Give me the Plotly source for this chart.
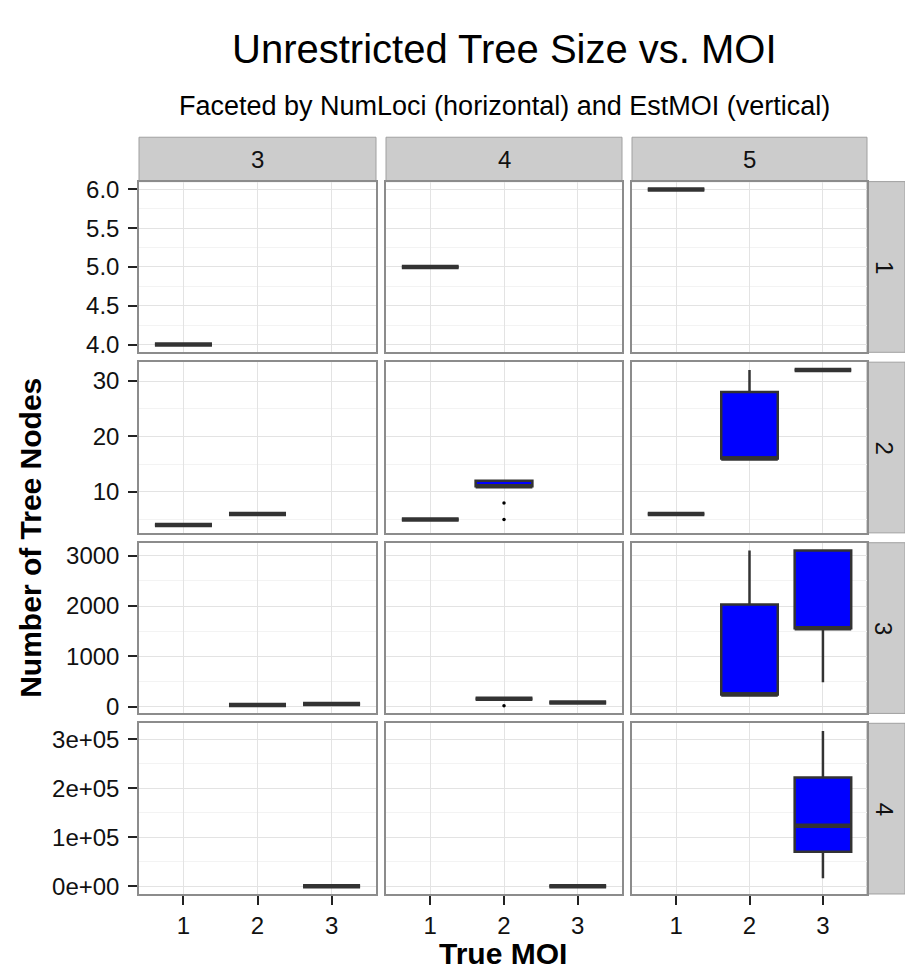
import plotly.graph_objects as go
from plotly.subplots import make_subplots

# ---------------- data ----------------
num_loci = [3, 4, 5]            # facet columns
est_moi = [1, 2, 3, 4]          # facet rows
true_moi = [1, 2, 3]            # x categories

# one entry per box
box_est  = [1, 1, 1, 2, 2, 2, 2, 2, 2, 2, 3, 3, 3, 3, 3, 3, 4, 4, 4]
box_loci = [3, 4, 5, 3, 3, 4, 4, 5, 5, 5, 3, 3, 4, 4, 5, 5, 3, 4, 5]
box_true = [1, 1, 1, 1, 2, 1, 2, 1, 2, 3, 2, 3, 2, 3, 2, 3, 3, 3, 3]
box_min  = [4, 5, 6, 4, 6, 5, 11, 6, 16, 32, 32, 52, 157, 84, 240, 485, 330, 350, 16700]
box_q1   = [4, 5, 6, 4, 6, 5, 11, 6, 16, 32, 32, 52, 157, 84, 240, 1560, 330, 350, 70600]
box_med  = [4, 5, 6, 4, 6, 5, 11, 6, 16, 32, 32, 52, 157, 84, 240, 1560, 330, 350, 123500]
box_q3   = [4, 5, 6, 4, 6, 5, 12, 6, 28, 32, 32, 52, 157, 84, 2030, 3105, 330, 350, 222000]
box_max  = [4, 5, 6, 4, 6, 5, 12, 6, 32, 32, 32, 52, 157, 84, 3105, 3105, 330, 350, 317000]

# outliers
out_est  = [2, 2, 3]
out_loci = [4, 4, 4]
out_true = [2, 2, 2]
out_val  = [8, 5, 20]

# y tick values / labels per row
row_ticks = {
    1: [4.0, 4.5, 5.0, 5.5, 6.0],
    2: [10, 20, 30],
    3: [0, 1000, 2000, 3000],
    4: [0, 100000, 200000, 300000],
}
row_ticktext = {
    1: ["4.0", "4.5", "5.0", "5.5", "6.0"],
    2: ["10", "20", "30"],
    3: ["0", "1000", "2000", "3000"],
    4: ["0e+00", "1e+05", "2e+05", "3e+05"],
}
row_minor = {
    1: [4.25, 4.75, 5.25, 5.75],
    2: [5, 15, 25],
    3: [500, 1500, 2500],
    4: [50000, 150000, 250000],
}

title = "Unrestricted Tree Size vs. MOI"
subtitle = "Faceted by NumLoci (horizontal) and EstMOI (vertical)"
x_title = "True MOI"
y_title = "Number of Tree Nodes"

# ---------------- style / layout ----------------
W, H = 905, 973
FONT = "Liberation Sans, Arial, Helvetica, sans-serif"
BOX_W = 0.77
OUTLINE = "#333333"
FILL = "#0000FF"
TICK_SIZE = 24

col_px = [(139, 376), (386, 622), (632, 867)]
row_px = [(178, 351), (361, 534), (544, 717), (727, 900)]
strip_top = (133, 178)
strip_right = (867, 905)


def px_x(v):
    return v / W


def px_y(v):
    return 1 - v / H


fig = make_subplots(rows=4, cols=3)

for ri, em in enumerate(est_moi):
    # row range from data (ggplot-style 5% expansion)
    vals = [v for e, v in zip(box_est, box_min) if e == em] + \
           [v for e, v in zip(box_est, box_max) if e == em] + \
           [v for e, v in zip(out_est, out_val) if e == em]
    lo, hi = min(vals), max(vals)
    pad = 0.05 * (hi - lo)
    yr = [lo - pad, hi + pad]
    for ci, nl in enumerate(num_loci):
        idx = [i for i in range(len(box_est)) if box_est[i] == em and box_loci[i] == nl]
        r, c = ri + 1, ci + 1
        if idx:
            fig.add_trace(go.Box(
                x=[box_true[i] for i in idx],
                q1=[box_q1[i] for i in idx],
                median=[box_med[i] for i in idx],
                q3=[box_q3[i] for i in idx],
                lowerfence=[box_min[i] for i in idx],
                upperfence=[box_max[i] for i in idx],
                width=BOX_W,
                whiskerwidth=0,
                boxpoints=False,
                fillcolor=FILL,
                line=dict(color=OUTLINE, width=2.5),
                showlegend=False,
                hoverinfo="skip",
            ), row=r, col=c)
            # thicker median line (ggplot fatten)
            mx, my = [], []
            for i in idx:
                mx += [box_true[i] - BOX_W / 2, box_true[i] + BOX_W / 2, None]
                my += [box_med[i], box_med[i], None]
            fig.add_trace(go.Scatter(
                x=mx, y=my, mode="lines",
                line=dict(color=OUTLINE, width=4.5),
                showlegend=False, hoverinfo="skip",
            ), row=r, col=c)
        oidx = [i for i in range(len(out_est)) if out_est[i] == em and out_loci[i] == nl]
        if oidx:
            fig.add_trace(go.Scatter(
                x=[out_true[i] for i in oidx],
                y=[out_val[i] for i in oidx],
                mode="markers",
                marker=dict(color="black", size=3.5),
                showlegend=False, hoverinfo="skip",
            ), row=r, col=c)

        x0, x1 = col_px[ci]
        y0, y1 = row_px[ri]
        fig.update_xaxes(
            domain=[px_x(x0), px_x(x1)],
            range=[0.4, 3.6],
            tickvals=true_moi,
            ticktext=[str(t) for t in true_moi],
            showticklabels=(ri == 3),
            ticks="outside" if ri == 3 else "",
            ticklen=9, tickwidth=2, tickcolor="#222222",
            tickfont=dict(family=FONT, size=TICK_SIZE, color="#111111"),
            showgrid=True, gridcolor="#E3E3E3", gridwidth=1,
            zeroline=False,
            showline=True, mirror=True, linecolor="#8C8C8C", linewidth=1.5,
            fixedrange=True,
            row=r, col=c,
        )
        fig.update_yaxes(
            domain=[px_y(y1), px_y(y0)],
            range=yr,
            tickvals=row_ticks[em],
            ticktext=row_ticktext[em],
            showticklabels=(ci == 0),
            ticks="outside" if ci == 0 else "",
            ticklen=9, tickwidth=2, tickcolor="#222222",
            ticklabelstandoff=4,
            tickfont=dict(family=FONT, size=TICK_SIZE, color="#111111"),
            showgrid=True, gridcolor="#E3E3E3", gridwidth=1,
            minor=dict(tickvals=row_minor[em], showgrid=True,
                       gridcolor="#F3F3F3", gridwidth=1, ticks=""),
            zeroline=False,
            showline=True, mirror=True, linecolor="#8C8C8C", linewidth=1.5,
            fixedrange=True,
            row=r, col=c,
        )

shapes = []
annotations = []

# top strips
for ci, nl in enumerate(num_loci):
    x0, x1 = col_px[ci]
    shapes.append(dict(type="rect", xref="paper", yref="paper",
                       x0=px_x(x0), x1=px_x(x1),
                       y0=px_y(strip_top[1]), y1=px_y(strip_top[0]),
                       fillcolor="#CCCCCC", line=dict(color="#A0A0A0", width=1),
                       layer="below"))
    annotations.append(dict(text=str(nl), xref="paper", yref="paper",
                            x=px_x((x0 + x1) / 2), y=px_y((strip_top[0] + strip_top[1]) / 2),
                            showarrow=False, xanchor="center", yanchor="middle",
                            font=dict(family=FONT, size=TICK_SIZE, color="#111111")))
# right strips
for ri, em in enumerate(est_moi):
    y0, y1 = row_px[ri]
    shapes.append(dict(type="rect", xref="paper", yref="paper",
                       x0=px_x(strip_right[0]), x1=px_x(strip_right[1]),
                       y0=px_y(y1), y1=px_y(y0),
                       fillcolor="#CCCCCC", line=dict(color="#A0A0A0", width=1),
                       layer="below"))
    annotations.append(dict(text=str(em), xref="paper", yref="paper",
                            x=px_x((strip_right[0] + 901) / 2), y=px_y((y0 + y1) / 2),
                            showarrow=False, xanchor="center", yanchor="middle",
                            textangle=90,
                            font=dict(family=FONT, size=TICK_SIZE, color="#111111")))

# titles
annotations.append(dict(text=title, xref="paper", yref="paper",
                        x=px_x(504), y=px_y(44), showarrow=False,
                        xanchor="center", yanchor="middle",
                        font=dict(family=FONT, size=40, color="black")))
annotations.append(dict(text=subtitle, xref="paper", yref="paper",
                        x=px_x(504), y=px_y(101), showarrow=False,
                        xanchor="center", yanchor="middle",
                        font=dict(family=FONT, size=27, color="black")))
annotations.append(dict(text="<b>" + x_title + "</b>", xref="paper", yref="paper",
                        x=px_x(503), y=px_y(960), showarrow=False,
                        xanchor="center", yanchor="middle",
                        font=dict(family=FONT, size=30, color="black")))
annotations.append(dict(text="<b>" + y_title + "</b>", xref="paper", yref="paper",
                        x=px_x(31), y=px_y(539), showarrow=False,
                        xanchor="center", yanchor="middle", textangle=-90,
                        font=dict(family=FONT, size=30, color="black")))

fig.update_layout(
    width=W, height=H,
    margin=dict(l=0, r=0, t=0, b=0),
    paper_bgcolor="white",
    plot_bgcolor="white",
    showlegend=False,
    shapes=shapes,
    annotations=annotations,
    font=dict(family=FONT),
)

fig.write_html("out.html")
